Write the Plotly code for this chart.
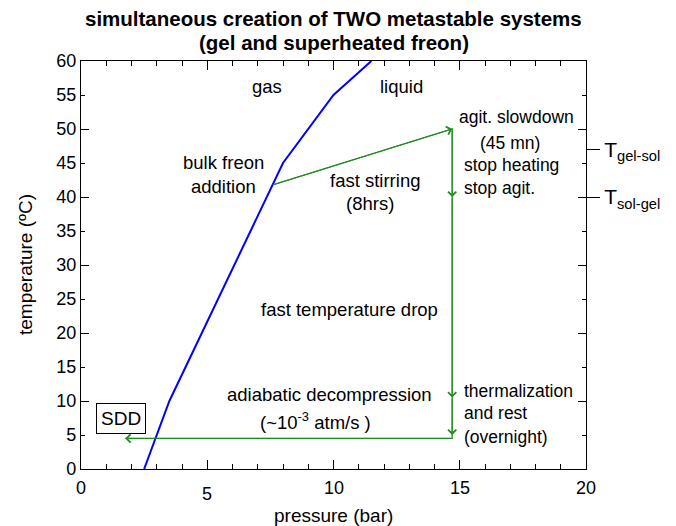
import plotly.graph_objects as go

# ---------------- data ----------------
title_lines = ["simultaneous creation of TWO metastable systems", "(gel and superheated freon)"]
x_title = "pressure (bar)"
y_title = "temperature (ºC)"

# liquid / gas coexistence curve of freon
curve_p = [2.5, 3.5, 8.0, 10.0, 11.5]
curve_T = [0, 10, 45, 55, 60]

# experimental path (green)
path_p = [7.6, 14.7, 14.7, 1.75]
path_T = [41.8, 50.0, 4.5, 4.5]

# arrowheads along the path: head and tail points
arrow_head_p = [14.7, 14.7, 14.7, 14.7, 1.75]
arrow_head_T = [50.0, 40.0, 10.5, 5.0, 4.5]
arrow_tail_p = [7.6, 14.7, 14.7, 14.7, 14.7]
arrow_tail_T = [41.8, 50.0, 40.0, 10.5, 4.5]

x_tick_vals = [0, 5, 10, 15, 20]
x_tick_text = ["0", "5", "10", "15", "20"]

gel_T = [47, 40]
gel_labels = ["T<sub>gel-sol</sub>", "T<sub>sol-gel</sub>"]

# text labels: text, p, T, anchor
labels_text = ["gas", "liquid", "bulk freon", "addition", "fast stirring", "(8hrs)",
               "agit. slowdown", "(45 mn)", "stop heating", "stop agit.",
               "fast temperature drop", "adiabatic decompression",
               "(~10<sup>-3</sup> atm/s )", "thermalization", "and rest", "(overnight)"]
labels_p = [7.35, 12.7, 5.66, 5.66, 11.64, 11.45,
            14.88, 15.72, 15.08, 15.08,
            10.63, 9.85, 9.3, 15.08, 15.08, 15.08]
labels_T = [56.2, 56.2, 45.1, 41.6, 42.5, 39.1,
            51.7, 48.0, 44.7, 41.3,
            23.4, 10.9, 7.0, 11.5, 8.2, 4.75]
labels_anchor = ["center", "center", "center", "center", "center", "center",
                 "left", "left", "left", "left",
                 "center", "center", "center", "left", "left", "left"]

sdd_text = "SDD"
sdd_p = 1.58
sdd_T = 7.5

# ---------------- figure ----------------
FONT = "Liberation Sans, Arial, sans-serif"
GREEN = "#228b22"

fig = go.Figure()
fig.add_trace(go.Scatter(x=curve_p, y=curve_T, mode="lines",
                         line=dict(color="#0000ff", width=2), showlegend=False,
                         hoverinfo="skip"))
fig.add_trace(go.Scatter(x=path_p, y=path_T, mode="lines",
                         line=dict(color=GREEN, width=1.3), showlegend=False,
                         hoverinfo="skip"))
# invisible traces to activate the extra y axes
fig.add_trace(go.Scatter(x=[None], y=[None], yaxis="y2", showlegend=False))
fig.add_trace(go.Scatter(x=[None], y=[None], yaxis="y3", showlegend=False))

annotations = []
for hp, hT, tp, tT in zip(arrow_head_p, arrow_head_T, arrow_tail_p, arrow_tail_T):
    annotations.append(dict(x=hp, y=hT, ax=tp, ay=tT, xref="x", yref="y",
                            axref="x", ayref="y", text="", showarrow=True,
                            arrowhead=4, arrowsize=1.6, arrowwidth=1.0,
                            arrowcolor=GREEN))

for t, p, T, a in zip(labels_text, labels_p, labels_T, labels_anchor):
    size = 17.5 if a == "left" else 18.5
    annotations.append(dict(x=p, y=T, xref="x", yref="y", text=t, showarrow=False,
                            xanchor=a, yanchor="middle",
                            font=dict(family=FONT, size=size, color="black")))

annotations.append(dict(x=sdd_p, y=sdd_T, xref="x", yref="y", text=sdd_text,
                        showarrow=False, xanchor="center", yanchor="middle",
                        bordercolor="black", borderwidth=1, borderpad=4,
                        bgcolor="white",
                        font=dict(family=FONT, size=19, color="black")))

for v, t in zip(x_tick_vals, x_tick_text):
    annotations.append(dict(x=v, y=0, xref="x", yref="paper", text=t,
                            showarrow=False, xanchor="center", yanchor="top",
                            yshift=-13 if t == "5" else -7,
                            font=dict(family=FONT, size=18, color="black")))

# title (two centred bold lines above the plot area)
for i, line in enumerate(title_lines):
    annotations.append(dict(x=0.5, y=1, xref="paper", yref="paper",
                            text="<b>" + line + "</b>", showarrow=False,
                            xanchor="center", yanchor="middle",
                            yshift=43 - 24 * i,
                            font=dict(family=FONT, size=20.5, color="black")))

# axis titles
annotations.append(dict(x=0.5, y=0, xref="paper", yref="paper", text=x_title,
                        showarrow=False, xanchor="center", yanchor="middle",
                        yshift=-46, font=dict(family=FONT, size=19, color="black")))
annotations.append(dict(x=0, y=0.5, xref="paper", yref="paper", text=y_title,
                        showarrow=False, xanchor="center", yanchor="middle",
                        textangle=-90, xshift=-56,
                        font=dict(family=FONT, size=19, color="black")))

axis_common = dict(showgrid=False, zeroline=False, showline=True,
                   linecolor="black", linewidth=1.3, tickcolor="black",
                   tickwidth=1.3, automargin=False)

fig.update_layout(
    width=676, height=526,
    margin=dict(l=81, r=90, t=61, b=57, pad=0, autoexpand=False),
    paper_bgcolor="white", plot_bgcolor="white",
    font=dict(family=FONT, size=18, color="black"),
    xaxis=dict(range=[0, 20], ticks="inside", tick0=0, dtick=5, ticklen=9,
               mirror="ticks", showticklabels=False,
               minor=dict(ticks="inside", tick0=0, dtick=1, ticklen=5,
                          tickwidth=1.3, tickcolor="black"),
               **axis_common),
    yaxis=dict(range=[0, 60], ticks="inside", tick0=0, dtick=5, ticklen=4,
               mirror="ticks",
               tickfont=dict(family=FONT, size=18),
               **axis_common),
    yaxis2=dict(range=[0, 60], overlaying="y", side="left", ticks="inside",
                tick0=0, dtick=10, ticklen=8, mirror="ticks",
                showticklabels=False, **axis_common),
    yaxis3=dict(range=[0, 60], overlaying="y", side="right", ticks="outside",
                tickmode="array", tickvals=gel_T, ticktext=gel_labels,
                ticklen=13, showline=False, showgrid=False, zeroline=False,
                automargin=False,
                tickcolor="black", tickwidth=1.3,
                tickfont=dict(family=FONT, size=21, color="black")),
    annotations=annotations,
)

fig.write_html("out.html")
